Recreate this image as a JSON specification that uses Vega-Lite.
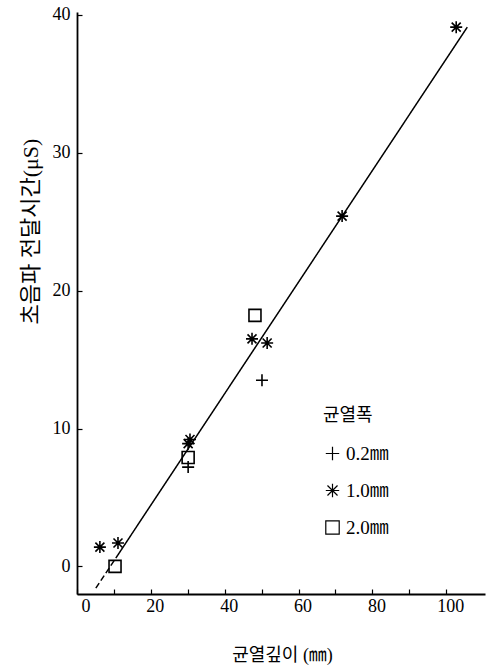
{
  "$schema": "https://vega.github.io/schema/vega-lite/v6.json",
  "autosize": {"type": "none"},
  "padding": {"left": 77, "top": 12, "right": 4, "bottom": 72},
  "width": 408,
  "height": 582,
  "background": "white",
  "config": {
    "view": {"stroke": null},
    "font": "'Liberation Serif', 'Noto Sans CJK KR', serif",
    "axis": {
      "grid": false,
      "domainColor": "black",
      "domainWidth": 1.8,
      "tickColor": "black",
      "tickWidth": 1.2,
      "labelColor": "black",
      "titleColor": "black",
      "labelFont": "'Liberation Serif', serif",
      "titleFont": "'Liberation Serif', 'Noto Sans CJK KR', serif",
      "titleFontWeight": "normal"
    }
  },
  "datasets": {
    "pts": [
      {"depth": 6.2, "time": 1.4, "width": "1.0㎜"},
      {"depth": 11.1, "time": 1.7, "width": "1.0㎜"},
      {"depth": 10.3, "time": 0.0, "width": "2.0㎜"},
      {"depth": 30.6, "time": 9.2, "width": "1.0㎜"},
      {"depth": 30.1, "time": 8.9, "width": "1.0㎜"},
      {"depth": 30.1, "time": 7.9, "width": "2.0㎜"},
      {"depth": 30.1, "time": 7.2, "width": "0.2㎜"},
      {"depth": 48.2, "time": 18.2, "width": "2.0㎜"},
      {"depth": 47.4, "time": 16.5, "width": "1.0㎜"},
      {"depth": 51.5, "time": 16.2, "width": "1.0㎜"},
      {"depth": 50.1, "time": 13.5, "width": "0.2㎜"},
      {"depth": 71.8, "time": 25.4, "width": "1.0㎜"},
      {"depth": 102.7, "time": 39.1, "width": "1.0㎜"}
    ],
    "fit": [
      {"depth": 5.1, "time": -1.57, "seg": "dash"},
      {"depth": 10.5, "time": 0.6, "seg": "dash"},
      {"depth": 10.5, "time": 0.6, "seg": "solid"},
      {"depth": 105.7, "time": 39.1, "seg": "solid"}
    ]
  },
  "layer": [
    {
      "data": {"name": "fit"},
      "mark": {"type": "line", "color": "black", "strokeWidth": 1.5, "clip": true},
      "encoding": {
        "x": {"field": "depth", "type": "quantitative"},
        "y": {"field": "time", "type": "quantitative"},
        "detail": {"field": "seg"},
        "strokeDash": {"field": "seg", "type": "nominal", "scale": {"domain": ["dash", "solid"], "range": [[6, 3], [1, 0]]}, "legend": null}
      }
    },
    {
      "data": {"name": "pts"},
      "mark": {"type": "point", "filled": false, "color": "black", "strokeWidth": 1.6, "size": 144, "opacity": 1},
      "encoding": {
        "x": {
          "field": "depth", "type": "quantitative",
          "scale": {"domain": [0, 110.5], "nice": false, "zero": false},
          "axis": {
            "values": [0, 10, 20, 30, 40, 50, 60, 70, 80, 90, 100],
            "labelExpr": "datum.value % 20 === 0 ? datum.label : ''",
            "tickSize": -5,
            "labelPadding": 8,
            "labelFontSize": 18,
            "labelOffset": 4,
            "title": "균열깊이 (㎜)",
            "titleFontSize": 18,
            "titleX": 205,
            "titleY": 61,
            "titleAnchor": null,
            "titleAlign": "center",
            "titleBaseline": "middle"
          }
        },
        "y": {
          "field": "time", "type": "quantitative",
          "scale": {"domain": [-2, 40.2], "nice": false, "zero": false},
          "axis": {
            "values": [0, 10, 20, 30, 40],
            "tickSize": -5,
            "labelPadding": 12,
            "labelFontSize": 18,
            "title": "초음파 전달시간(μS)",
            "titleFontSize": 22,
            "titleAngle": -90,
            "titleX": -47,
            "titleY": 219,
            "titleAlign": "center",
            "titleBaseline": "middle"
          }
        },
        "shape": {
          "field": "width", "type": "nominal",
          "scale": {
            "domain": ["0.2㎜", "1.0㎜", "2.0㎜"],
            "range": ["M-1,0L1,0M0,-1L0,1", "M-1,0L1,0M0,-1L0,1M-0.75,-0.75L0.75,0.75M-0.75,0.75L0.75,-0.75", "square"]
          },
          "legend": {
            "title": "균열폭",
            "orient": "none",
            "legendX": 246,
            "legendY": 395,
            "padding": 0,
            "titleFontSize": 18,
            "titleFont": "'Noto Sans CJK KR', serif",
            "titleFontWeight": "normal",
            "titleColor": "black",
            "titlePadding": 19,
            "labelFontSize": 19,
            "labelFont": "'Liberation Serif', 'Noto Sans CJK KR', serif",
            "labelColor": "black",
            "labelOffset": 4,
            "rowPadding": 17,
            "symbolSize": 180,
            "symbolStrokeColor": "black",
            "symbolFillColor": "transparent",
            "symbolStrokeWidth": 1.2,
            "symbolOpacity": 1
          }
        }
      }
    }
  ]
}
